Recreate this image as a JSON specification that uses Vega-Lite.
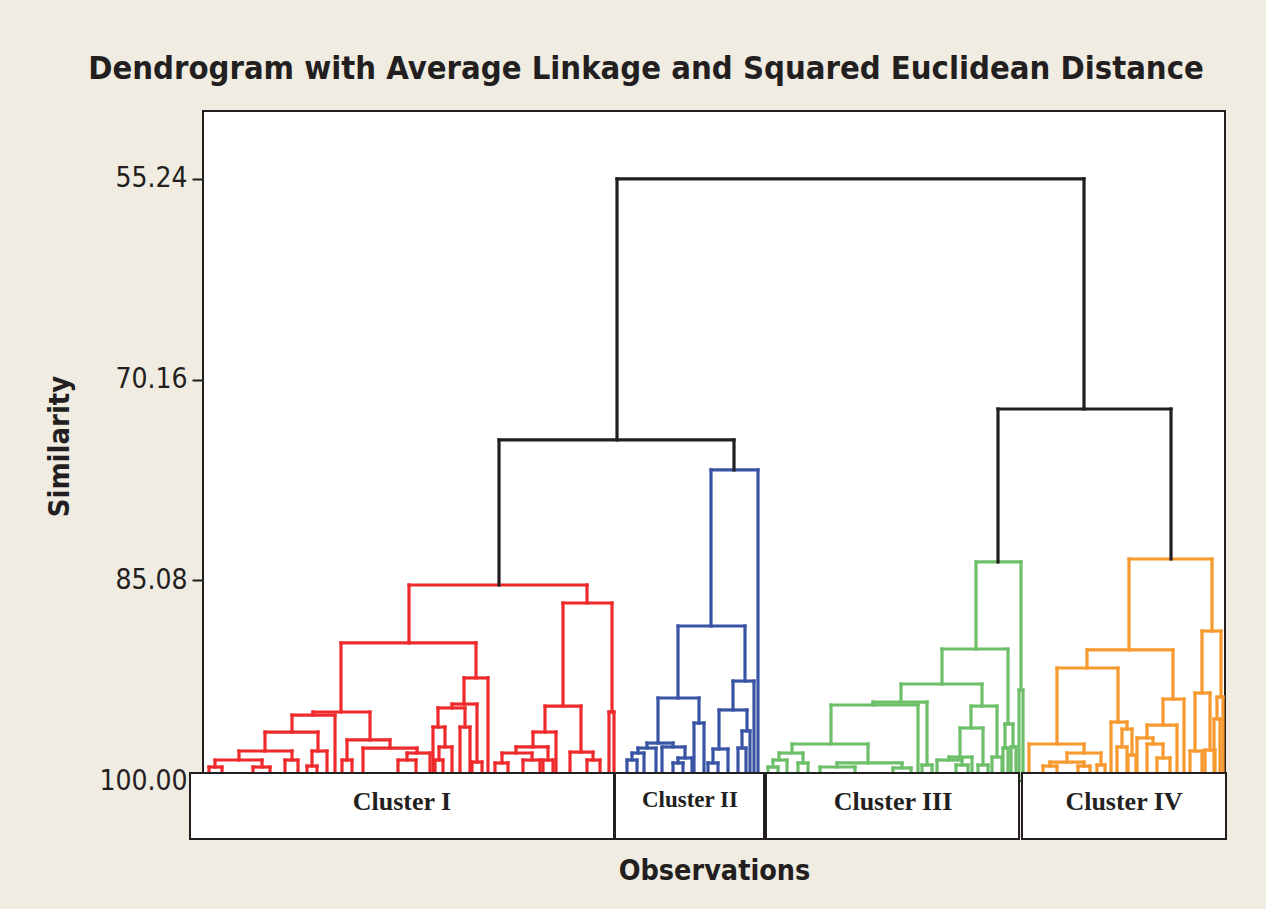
{
  "$schema": "https://vega.github.io/schema/vega-lite/v6.json",
  "width": 1022,
  "height": 670,
  "autosize": {"type": "none"},
  "padding": {"left": 203, "top": 111, "right": 41, "bottom": 128},
  "background": "#F0ECE2",
  "title": {
    "text": "Dendrogram with Average Linkage and Squared Euclidean Distance",
    "font": "DejaVu Sans Condensed, Liberation Sans Narrow, DejaVu Sans",
    "fontSize": 32.5,
    "fontWeight": "bold",
    "color": "#231F20",
    "anchor": "middle",
    "dx": -68,
    "offset": 26
  },
  "config": {
    "view": {"stroke": "#231F20", "strokeWidth": 2, "fill": "white"},
    "axis": {"grid": false}
  },
  "datasets": {
    "nodes": [
      {"xl": 414, "xr": 881, "h": 55.24, "hl": 74.65, "hr": 72.35, "c": "k"},
      {"xl": 296, "xr": 531, "h": 74.65, "hl": 85.43, "hr": 76.88, "c": "k"},
      {"xl": 795, "xr": 968, "h": 72.35, "hl": 83.72, "hr": 83.50, "c": "k"},

      {"xl": 206, "xr": 384, "h": 85.43, "hl": 89.74, "hr": 86.77, "c": "r"},
      {"xl": 138, "xr": 273, "h": 89.74, "hl": 94.87, "hr": 92.34, "c": "r"},
      {"xl": 110, "xr": 167, "h": 94.87, "hl": 95.10, "hr": 96.95, "c": "r"},
      {"xl": 89, "xr": 132, "h": 95.10, "hl": 96.36, "hr": 100, "c": "r"},
      {"xl": 62, "xr": 115, "h": 96.36, "hl": 97.77, "hr": 97.77, "c": "r"},
      {"xl": 36, "xr": 89, "h": 97.77, "hl": 98.44, "hr": 98.44, "c": "r"},
      {"xl": 12, "xr": 59, "h": 98.44, "hl": 98.96, "hr": 98.96, "c": "r"},
      {"xl": 6, "xr": 19, "h": 98.96, "hl": 100, "hr": 100, "c": "r"},
      {"xl": 50, "xr": 67, "h": 98.96, "hl": 100, "hr": 100, "c": "r"},
      {"xl": 82, "xr": 95, "h": 98.44, "hl": 100, "hr": 100, "c": "r"},
      {"xl": 109, "xr": 124, "h": 97.77, "hl": 98.89, "hr": 100, "c": "r"},
      {"xl": 104, "xr": 114, "h": 98.89, "hl": 100, "hr": 100, "c": "r"},
      {"xl": 144, "xr": 187, "h": 96.95, "hl": 98.44, "hr": 97.55, "c": "r"},
      {"xl": 139, "xr": 149, "h": 98.44, "hl": 100, "hr": 100, "c": "r"},
      {"xl": 160, "xr": 214, "h": 97.55, "hl": 100, "hr": 97.92, "c": "r"},
      {"xl": 204, "xr": 227, "h": 97.92, "hl": 98.44, "hr": 100, "c": "r"},
      {"xl": 195, "xr": 213, "h": 98.44, "hl": 100, "hr": 100, "c": "r"},
      {"xl": 261, "xr": 285, "h": 92.34, "hl": 94.28, "hr": 100, "c": "r"},
      {"xl": 249, "xr": 274, "h": 94.28, "hl": 94.57, "hr": 98.59, "c": "r"},
      {"xl": 269, "xr": 279, "h": 98.59, "hl": 100, "hr": 100, "c": "r"},
      {"xl": 235, "xr": 262, "h": 94.57, "hl": 95.99, "hr": 95.99, "c": "r"},
      {"xl": 230, "xr": 242, "h": 95.99, "hl": 100, "hr": 97.47, "c": "r"},
      {"xl": 236, "xr": 249, "h": 97.47, "hl": 98.44, "hr": 100, "c": "r"},
      {"xl": 232, "xr": 240, "h": 98.44, "hl": 100, "hr": 100, "c": "r"},
      {"xl": 257, "xr": 267, "h": 95.99, "hl": 100, "hr": 100, "c": "r"},
      {"xl": 360, "xr": 409, "h": 86.77, "hl": 94.43, "hr": 94.87, "c": "r"},
      {"xl": 342, "xr": 378, "h": 94.43, "hl": 96.36, "hr": 97.85, "c": "r"},
      {"xl": 330, "xr": 353, "h": 96.36, "hl": 97.47, "hr": 100, "c": "r"},
      {"xl": 313, "xr": 345, "h": 97.47, "hl": 97.92, "hr": 98.44, "c": "r"},
      {"xl": 299, "xr": 329, "h": 97.92, "hl": 98.66, "hr": 98.44, "c": "r"},
      {"xl": 292, "xr": 305, "h": 98.66, "hl": 100, "hr": 100, "c": "r"},
      {"xl": 320, "xr": 337, "h": 98.44, "hl": 100, "hr": 100, "c": "r"},
      {"xl": 340, "xr": 350, "h": 98.44, "hl": 100, "hr": 100, "c": "r"},
      {"xl": 367, "xr": 390, "h": 97.85, "hl": 100, "hr": 98.44, "c": "r"},
      {"xl": 384, "xr": 397, "h": 98.44, "hl": 100, "hr": 100, "c": "r"},
      {"xl": 406, "xr": 411, "h": 94.87, "hl": 100, "hr": 100, "c": "r"},

      {"xl": 508, "xr": 555, "h": 76.88, "hl": 88.48, "hr": 100, "c": "b"},
      {"xl": 475, "xr": 542, "h": 88.48, "hl": 93.83, "hr": 92.57, "c": "b"},
      {"xl": 455, "xr": 496, "h": 93.83, "hl": 97.18, "hr": 95.69, "c": "b"},
      {"xl": 444, "xr": 470, "h": 97.18, "hl": 97.55, "hr": 97.47, "c": "b"},
      {"xl": 435, "xr": 453, "h": 97.55, "hl": 97.92, "hr": 100, "c": "b"},
      {"xl": 429, "xr": 441, "h": 97.92, "hl": 98.44, "hr": 100, "c": "b"},
      {"xl": 424, "xr": 434, "h": 98.44, "hl": 100, "hr": 100, "c": "b"},
      {"xl": 459, "xr": 482, "h": 97.47, "hl": 100, "hr": 98.29, "c": "b"},
      {"xl": 475, "xr": 489, "h": 98.29, "hl": 98.66, "hr": 100, "c": "b"},
      {"xl": 470, "xr": 480, "h": 98.66, "hl": 100, "hr": 100, "c": "b"},
      {"xl": 491, "xr": 501, "h": 95.69, "hl": 100, "hr": 100, "c": "b"},
      {"xl": 530, "xr": 551, "h": 92.57, "hl": 94.72, "hr": 100, "c": "b"},
      {"xl": 516, "xr": 544, "h": 94.72, "hl": 97.62, "hr": 96.28, "c": "b"},
      {"xl": 510, "xr": 525, "h": 97.62, "hl": 98.66, "hr": 100, "c": "b"},
      {"xl": 505, "xr": 515, "h": 98.66, "hl": 100, "hr": 100, "c": "b"},
      {"xl": 539, "xr": 547, "h": 96.28, "hl": 97.55, "hr": 100, "c": "b"},
      {"xl": 535, "xr": 543, "h": 97.55, "hl": 100, "hr": 100, "c": "b"},

      {"xl": 773, "xr": 818, "h": 83.72, "hl": 90.19, "hr": 93.24, "c": "g"},
      {"xl": 816, "xr": 820, "h": 93.24, "hl": 100, "hr": 100, "c": "g"},
      {"xl": 739, "xr": 805, "h": 90.19, "hl": 92.79, "hr": 95.76, "c": "g"},
      {"xl": 698, "xr": 779, "h": 92.79, "hl": 94.13, "hr": 94.43, "c": "g"},
      {"xl": 670, "xr": 724, "h": 94.13, "hl": 94.35, "hr": 98.81, "c": "g"},
      {"xl": 719, "xr": 729, "h": 98.81, "hl": 100, "hr": 100, "c": "g"},
      {"xl": 628, "xr": 715, "h": 94.35, "hl": 97.25, "hr": 100, "c": "g"},
      {"xl": 589, "xr": 665, "h": 97.25, "hl": 97.92, "hr": 98.66, "c": "g"},
      {"xl": 576, "xr": 600, "h": 97.92, "hl": 98.44, "hr": 98.66, "c": "g"},
      {"xl": 570, "xr": 584, "h": 98.44, "hl": 98.96, "hr": 100, "c": "g"},
      {"xl": 565, "xr": 575, "h": 98.96, "hl": 100, "hr": 100, "c": "g"},
      {"xl": 595, "xr": 605, "h": 98.66, "hl": 100, "hr": 100, "c": "g"},
      {"xl": 634, "xr": 699, "h": 98.66, "hl": 98.96, "hr": 99.03, "c": "g"},
      {"xl": 617, "xr": 652, "h": 98.96, "hl": 100, "hr": 100, "c": "g"},
      {"xl": 690, "xr": 708, "h": 99.03, "hl": 100, "hr": 100, "c": "g"},
      {"xl": 768, "xr": 794, "h": 94.43, "hl": 96.06, "hr": 98.22, "c": "g"},
      {"xl": 757, "xr": 780, "h": 96.06, "hl": 98.22, "hr": 98.81, "c": "g"},
      {"xl": 746, "xr": 769, "h": 98.22, "hl": 98.44, "hr": 100, "c": "g"},
      {"xl": 734, "xr": 759, "h": 98.44, "hl": 100, "hr": 98.81, "c": "g"},
      {"xl": 753, "xr": 765, "h": 98.81, "hl": 100, "hr": 100, "c": "g"},
      {"xl": 775, "xr": 785, "h": 98.81, "hl": 100, "hr": 100, "c": "g"},
      {"xl": 789, "xr": 799, "h": 98.22, "hl": 100, "hr": 100, "c": "g"},
      {"xl": 802, "xr": 810, "h": 95.76, "hl": 97.55, "hr": 97.47, "c": "g"},
      {"xl": 800, "xr": 805, "h": 97.55, "hl": 100, "hr": 100, "c": "g"},
      {"xl": 808, "xr": 813, "h": 97.47, "hl": 100, "hr": 100, "c": "g"},

      {"xl": 926, "xr": 1009, "h": 83.50, "hl": 90.26, "hr": 88.85, "c": "o"},
      {"xl": 884, "xr": 970, "h": 90.26, "hl": 91.60, "hr": 93.91, "c": "o"},
      {"xl": 854, "xr": 915, "h": 91.60, "hl": 97.25, "hr": 95.62, "c": "o"},
      {"xl": 826, "xr": 881, "h": 97.25, "hl": 100, "hr": 97.92, "c": "o"},
      {"xl": 864, "xr": 898, "h": 97.92, "hl": 98.59, "hr": 98.81, "c": "o"},
      {"xl": 847, "xr": 881, "h": 98.59, "hl": 98.89, "hr": 98.89, "c": "o"},
      {"xl": 840, "xr": 854, "h": 98.89, "hl": 100, "hr": 100, "c": "o"},
      {"xl": 875, "xr": 887, "h": 98.89, "hl": 100, "hr": 100, "c": "o"},
      {"xl": 894, "xr": 902, "h": 98.81, "hl": 100, "hr": 100, "c": "o"},
      {"xl": 908, "xr": 924, "h": 95.62, "hl": 100, "hr": 96.14, "c": "o"},
      {"xl": 919, "xr": 929, "h": 96.14, "hl": 97.47, "hr": 98.07, "c": "o"},
      {"xl": 914, "xr": 924, "h": 97.47, "hl": 100, "hr": 100, "c": "o"},
      {"xl": 925, "xr": 933, "h": 98.07, "hl": 100, "hr": 100, "c": "o"},
      {"xl": 960, "xr": 981, "h": 93.91, "hl": 95.84, "hr": 100, "c": "o"},
      {"xl": 944, "xr": 974, "h": 95.84, "hl": 96.80, "hr": 100, "c": "o"},
      {"xl": 934, "xr": 950, "h": 96.80, "hl": 100, "hr": 97.25, "c": "o"},
      {"xl": 944, "xr": 960, "h": 97.25, "hl": 100, "hr": 98.29, "c": "o"},
      {"xl": 954, "xr": 967, "h": 98.29, "hl": 100, "hr": 100, "c": "o"},
      {"xl": 999, "xr": 1018, "h": 88.85, "hl": 93.46, "hr": 93.76, "c": "o"},
      {"xl": 992, "xr": 1007, "h": 93.46, "hl": 97.77, "hr": 97.70, "c": "o"},
      {"xl": 987, "xr": 999, "h": 97.77, "hl": 100, "hr": 100, "c": "o"},
      {"xl": 1002, "xr": 1012, "h": 97.70, "hl": 100, "hr": 100, "c": "o"},
      {"xl": 1014, "xr": 1020, "h": 93.76, "hl": 95.39, "hr": 100, "c": "o"},
      {"xl": 1011, "xr": 1017, "h": 95.39, "hl": 100, "hr": 100, "c": "o"}
    ],
    "boxes": [
      {"cluster": "Cluster I", "a": -13, "b": 411, "mid": 199},
      {"cluster": "Cluster II", "a": 412, "b": 561, "mid": 487},
      {"cluster": "Cluster III", "a": 563, "b": 816, "mid": 690},
      {"cluster": "Cluster IV", "a": 819, "b": 1023, "mid": 921}
    ]
  },
  "layer": [
    {
      "data": {"name": "nodes"},
      "mark": {"type": "rule", "strokeWidth": 3.2, "strokeCap": "square"},
      "encoding": {
        "x": {
          "field": "xl", "type": "quantitative", "title": "Observations",
          "scale": {"domain": [0, 1022], "nice": false, "zero": false},
          "axis": {
            "labels": false, "ticks": false, "domain": false,
            "titleFont": "DejaVu Sans Condensed, Liberation Sans Narrow, DejaVu Sans",
            "titleFontSize": 28.5, "titleFontWeight": "bold", "titleColor": "#231F20",
            "titlePadding": 75
          }
        },
        "x2": {"field": "xr"},
        "y": {
          "field": "h", "type": "quantitative", "title": "Similarity",
          "scale": {"domain": [50.2, 100], "nice": false, "zero": false, "reverse": true},
          "axis": {
            "values": [55.24, 70.16, 85.08, 100],
            "format": ".2f",
            "domain": false,
            "labelFont": "DejaVu Sans Condensed, Roboto",
            "labelFontSize": 28, "labelColor": "#231F20",
            "tickColor": "#231F20", "tickWidth": 2, "tickSize": 11, "labelPadding": 5,
            "titleFont": "DejaVu Sans Condensed, Liberation Sans Narrow, DejaVu Sans",
            "titleFontSize": 29, "titleFontWeight": "bold", "titleColor": "#231F20",
            "titlePadding": 24
          }
        },
        "color": {
          "field": "c", "type": "nominal", "legend": null,
          "scale": {"domain": ["k", "r", "b", "g", "o"], "range": ["#231F20", "#EE2A2C", "#3A54A5", "#6DBF69", "#F7992E"]}
        }
      }
    },
    {
      "data": {"name": "nodes"},
      "mark": {"type": "rule", "strokeWidth": 3.2, "strokeCap": "square"},
      "encoding": {
        "x": {"field": "xl", "type": "quantitative", "title": "Observations"},
        "y": {"field": "h", "type": "quantitative", "title": "Similarity"},
        "y2": {"field": "hl"},
        "color": {"field": "c", "type": "nominal", "legend": null}
      }
    },
    {
      "data": {"name": "nodes"},
      "mark": {"type": "rule", "strokeWidth": 3.2, "strokeCap": "square"},
      "encoding": {
        "x": {"field": "xr", "type": "quantitative", "title": "Observations"},
        "y": {"field": "h", "type": "quantitative", "title": "Similarity"},
        "y2": {"field": "hr"},
        "color": {"field": "c", "type": "nominal", "legend": null}
      }
    },
    {
      "data": {"name": "boxes"},
      "mark": {"type": "rect", "fill": "white", "stroke": "#231F20", "strokeWidth": 2},
      "encoding": {
        "x": {"field": "a", "type": "quantitative", "title": "Observations"},
        "x2": {"field": "b"},
        "y": {"datum": 99.41, "type": "quantitative", "title": "Similarity"},
        "y2": {"datum": 104.31}
      }
    },
    {
      "data": {"name": "boxes"},
      "transform": [{"filter": "datum.cluster != 'Cluster II'"}],
      "mark": {"type": "text", "font": "Liberation Serif", "fontWeight": "bold", "fontSize": 26, "color": "#231F20", "baseline": "middle", "align": "center"},
      "encoding": {
        "x": {"field": "mid", "type": "quantitative", "title": "Observations"},
        "y": {"datum": 101.56, "type": "quantitative", "title": "Similarity"},
        "text": {"field": "cluster"}
      }
    },
    {
      "data": {"name": "boxes"},
      "transform": [{"filter": "datum.cluster == 'Cluster II'"}],
      "mark": {"type": "text", "font": "Liberation Serif", "fontWeight": "bold", "fontSize": 23, "color": "#231F20", "baseline": "middle", "align": "center"},
      "encoding": {
        "x": {"field": "mid", "type": "quantitative", "title": "Observations"},
        "y": {"datum": 101.4, "type": "quantitative", "title": "Similarity"},
        "text": {"field": "cluster"}
      }
    }
  ]
}
